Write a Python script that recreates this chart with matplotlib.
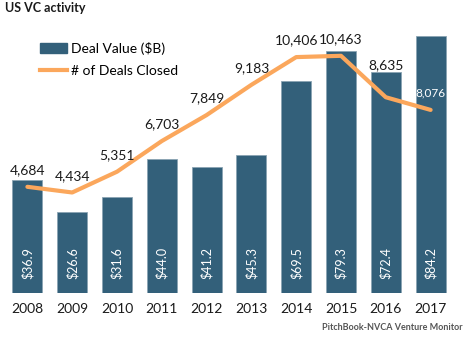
import matplotlib
matplotlib.use("Agg")
import matplotlib.pyplot as plt
from matplotlib.patches import Patch
from matplotlib.lines import Line2D

years = ["2008", "2009", "2010", "2011", "2012", "2013", "2014", "2015", "2016", "2017"]
deal_value = [36.9, 26.6, 31.6, 44.0, 41.2, 45.3, 69.5, 79.3, 72.4, 84.2]
deal_count = [4684, 4434, 5351, 6703, 7849, 9183, 10406, 10463, 8635, 8076]

# vertical offset (points) of each deal-count label above its point
count_label_offset = [12, 12, 12, 12, 12, 12, 12, 12, 23, 12]

BAR = "#33607a"
LINE = "#fba75c"
plt.rcParams["font.family"] = ["Lato", "DejaVu Sans"]

fig = plt.figure(figsize=(4.73, 3.39), dpi=100)
ax = fig.add_axes([5 / 473, 46 / 339, 448 / 473, 273 / 339])
x = list(range(len(years)))

ax.bar(x, deal_value, width=0.67, color=BAR, edgecolor="#8aa4b3", linewidth=0.6)
ax.set_xlim(-0.5, len(years) - 0.5)
ax.set_ylim(0, 273 / 3.05)
for xi, v in zip(x, deal_value):
    ax.annotate(f"${v:.1f}", (xi, 0), xytext=(0, 10), textcoords="offset points",
                rotation=90, ha="center", va="bottom", color="white", fontsize=9)

ax2 = ax.twinx()
ax2.set_ylim(0, 273 / 0.02267)
ax2.plot(x, deal_count, color=LINE, linewidth=3, solid_capstyle="round",
         solid_joinstyle="round")
for i, (xi, v, off) in enumerate(zip(x, deal_count, count_label_offset)):
    last = i == len(x) - 1
    ax2.annotate(f"{v:,}", (xi, v), xytext=(0, off), textcoords="offset points",
                 ha="center", va="center", color="white" if last else "#1a1a1a",
                 fontsize=8.5 if last else 10)

for a in (ax, ax2):
    for s in a.spines.values():
        s.set_visible(False)
    a.set_yticks([])
ax.set_xticks(x)
ax.set_xticklabels(years, fontsize=10, color="#1a1a1a")
ax.tick_params(axis="x", length=0, pad=7.5)

handles = [Patch(facecolor=BAR, edgecolor=BAR),
           Line2D([0], [0], color=LINE, linewidth=3)]
leg = ax.legend(handles, ["Deal Value ($B)", "# of Deals Closed"], loc="upper left",
                bbox_to_anchor=(0.066, 0.94), frameon=False, fontsize=10,
                handlelength=1.9, handletextpad=0.3, labelspacing=0.7,
                borderaxespad=0)
leg.set_zorder(5)

fig.text(5 / 473, 1 - 8 / 339, "US VC activity", ha="left", va="center",
         fontsize=9, fontweight="bold", color="#1a1a1a")
fig.text(463 / 473, 1 - 328 / 339, "PitchBook-NVCA Venture Monitor", ha="right",
         va="center", fontsize=6.5, fontweight="bold", color="#555555")

fig.savefig("out.png", dpi=100)
